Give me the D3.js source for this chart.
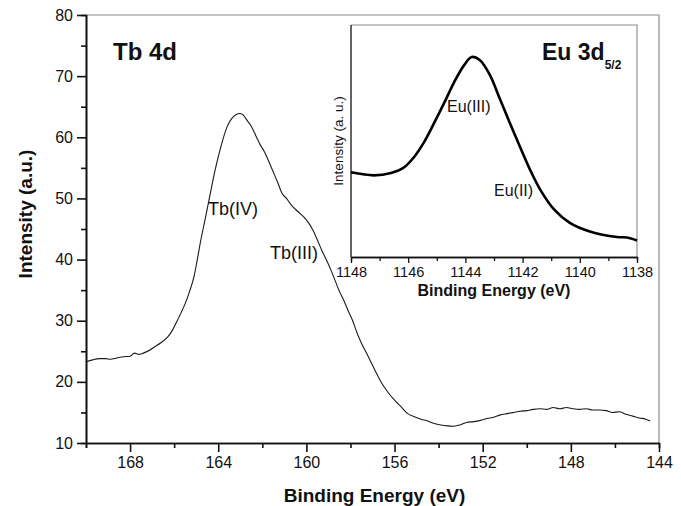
<!DOCTYPE html>
<html>
<head>
<meta charset="utf-8">
<script src="https://cdn.jsdelivr.net/npm/d3@7"></script>
<style>
  html, body { margin: 0; padding: 0; background: #fff; }
  svg { display: block; }
  text { font-family: "Liberation Sans", Arial, Helvetica, sans-serif; fill: #111; }
</style>
</head>
<body>
<svg id="chart" width="681" height="506"></svg>
<script>
// Tb 4d spectrum (binding energy in eV, intensity in a.u.)
const tbEnergy = [
  170.0, 169.7, 169.4, 169.1, 168.9, 168.6, 168.3, 168.0, 167.8, 167.6,
  167.4, 167.1, 166.9, 166.6, 166.3, 166.1, 165.9, 165.7, 165.5, 165.3,
  165.1, 164.95, 164.8, 164.6, 164.45, 164.3, 164.15, 164.0, 163.8, 163.6,
  163.4, 163.2, 163.0, 162.85, 162.7, 162.5, 162.3, 162.1, 161.9, 161.7,
  161.5, 161.3, 161.1, 160.9, 160.7, 160.4, 160.1, 159.9, 159.7, 159.5,
  159.3, 159.1, 158.9, 158.7, 158.5, 158.3, 158.1, 157.9, 157.7, 157.5,
  157.2, 156.9, 156.6, 156.3, 156.0, 155.7, 155.4, 155.1, 154.8, 154.5,
  154.2, 153.9, 153.6, 153.3, 153.0, 152.7, 152.4, 152.1, 151.8, 151.5,
  151.2, 150.9, 150.6, 150.3, 150.0, 149.7, 149.4, 149.1, 148.8, 148.5,
  148.2, 147.9, 147.6, 147.3, 147.0, 146.7, 146.4, 146.1, 145.8, 145.5,
  145.2, 144.9, 144.6, 144.4
];
const tbIntensity = [
  23.3, 23.6, 23.8, 23.8, 23.7, 23.9, 24.1, 24.2, 24.7, 24.5,
  24.7, 25.2, 25.7, 26.4, 27.3, 28.3, 29.7, 31.2, 32.8, 34.8,
  37.2, 40.0, 43.0, 46.5, 49.2, 51.9, 54.5, 56.8, 59.5, 61.7,
  63.0, 63.7, 63.9, 63.6, 62.8, 61.8, 60.3, 58.8, 57.6, 56.0,
  54.3, 52.6, 50.8, 50.0, 49.0, 47.9, 46.9, 46.0, 44.8, 43.2,
  41.5, 40.0, 38.4, 36.6, 34.8, 33.3, 31.6, 30.0, 28.0, 26.3,
  24.2, 22.0, 19.9, 18.3, 17.0, 15.9, 14.8, 14.3, 13.9, 13.6,
  13.2, 12.95, 12.8, 12.75, 13.0, 13.4, 13.5, 13.7, 14.0, 14.2,
  14.6, 14.8, 15.0, 15.2, 15.3, 15.5, 15.6, 15.5, 15.8, 15.6,
  15.8, 15.6, 15.5, 15.6, 15.4, 15.4, 15.3, 15.0, 15.1, 14.7,
  14.4, 14.1, 13.9, 13.6
];

// Eu 3d5/2 spectrum (inset, relative intensity)
const euEnergy = [
  1148.0, 1147.2, 1146.6, 1146.15, 1145.8, 1145.45, 1145.1, 1144.75, 1144.4, 1144.05,
  1143.78, 1143.5, 1143.15, 1142.8, 1142.45, 1142.1, 1141.75, 1141.4, 1140.9, 1140.35,
  1139.65, 1138.7, 1138.35, 1138.0
];
const euIntensity = [
  36.5, 35.2, 36.2, 38.6, 43.0, 49.4, 57.6, 66.2, 75.2, 82.6,
  86.2, 84.9, 78.6, 68.3, 57.9, 47.7, 37.9, 29.4, 20.5, 14.7,
  11.0, 8.6, 8.4, 7.1
];

// Axis ticks
const mainXMajor = [168, 164, 160, 156, 152, 148, 144];
const mainXMinor = [170, 166, 162, 158, 154, 150, 146];
const mainYMajor = [10, 20, 30, 40, 50, 60, 70, 80];
const mainYMinor = [15, 25, 35, 45, 55, 65, 75];
const insetXMajor = [1148, 1146, 1144, 1142, 1140, 1138];
const insetXMinor = [1147, 1145, 1143, 1141, 1139];

const svg = d3.select("#chart");
const tickFont = "'Liberation Sans', Arial, sans-serif";

// ---- main panel ----
const M = { left: 86, right: 659, top: 15, bottom: 443 };
const x = d3.scaleLinear().domain([170, 144]).range([M.left, M.right]);
const y = d3.scaleLinear().domain([10, 80]).range([M.bottom, M.top]);

// frame (top/right)
svg.append("path")
  .attr("d", `M${M.left},${M.top}H${M.right}V${M.bottom}`)
  .attr("fill", "none").attr("stroke", "#8a8a8a").attr("stroke-width", 1.2);

function styleAxis(g, width) {
  g.select(".domain").attr("stroke", "#111").attr("stroke-width", width);
  g.selectAll(".tick line").attr("stroke", "#111").attr("stroke-width", width);
}

// x axis
const gxMinor = svg.append("g").attr("transform", `translate(0,${M.bottom})`)
  .call(d3.axisBottom(x).tickValues(mainXMinor).tickSize(5).tickFormat(""));
styleAxis(gxMinor, 1.6);
const gx = svg.append("g").attr("transform", `translate(0,${M.bottom})`)
  .call(d3.axisBottom(x).tickValues(mainXMajor).tickSize(9).tickSizeOuter(0).tickPadding(5).tickFormat(d3.format("d")));
styleAxis(gx, 1.6);
gx.selectAll(".tick text").attr("font-size", 16).attr("fill", "#222").attr("font-family", tickFont);

// y axis
const gyMinor = svg.append("g").attr("transform", `translate(${M.left},0)`)
  .call(d3.axisLeft(y).tickValues(mainYMinor).tickSize(5).tickFormat(""));
styleAxis(gyMinor, 1.6);
const gy = svg.append("g").attr("transform", `translate(${M.left},0)`)
  .call(d3.axisLeft(y).tickValues(mainYMajor).tickSize(9).tickSizeOuter(0).tickPadding(4).tickFormat(d3.format("d")));
styleAxis(gy, 1.6);
gy.selectAll(".tick text").attr("font-size", 16).attr("fill", "#222").attr("font-family", tickFont);

// axis titles
svg.append("text").attr("x", (M.left + M.right) / 2 + 2).attr("y", 502)
  .attr("text-anchor", "middle").attr("font-size", 19).attr("font-weight", "bold")
  .text("Binding Energy (eV)");
svg.append("text").attr("transform", "translate(32,214) rotate(-90)")
  .attr("text-anchor", "middle").attr("font-size", 19).attr("font-weight", "bold")
  .text("Intensity (a.u.)");

// Tb curve
const tbData = tbEnergy.map((e, i) => [e, tbIntensity[i]]);
const tbLine = d3.line().x(d => x(d[0])).y(d => y(d[1])).curve(d3.curveMonotoneX);
svg.append("path").datum(tbData)
  .attr("d", tbLine)
  .attr("fill", "none").attr("stroke", "#1a1a1a").attr("stroke-width", 1.1)
  .attr("stroke-linejoin", "round");

// Tb labels
svg.append("text").attr("x", 113).attr("y", 60).attr("font-size", 24).attr("font-weight", "bold").text("Tb 4d");
svg.append("text").attr("x", 208).attr("y", 215).attr("font-size", 18).text("Tb(IV)");
svg.append("text").attr("x", 270).attr("y", 259).attr("font-size", 18).text("Tb(III)");

// ---- inset panel ----
const I = { left: 351, right: 637, top: 25, bottom: 257 };
const xi = d3.scaleLinear().domain([1148, 1138]).range([I.left, I.right]);
const yi = d3.scaleLinear().domain([0, 100]).range([I.bottom, I.top]);

svg.append("path")
  .attr("d", `M${I.left},${I.top}H${I.right}V${I.bottom}`)
  .attr("fill", "none").attr("stroke", "#8a8a8a").attr("stroke-width", 1.1);

const gxiMinor = svg.append("g").attr("transform", `translate(0,${I.bottom})`)
  .call(d3.axisBottom(xi).tickValues(insetXMinor).tickSize(4).tickFormat(""));
styleAxis(gxiMinor, 1.3);
const gxi = svg.append("g").attr("transform", `translate(0,${I.bottom})`)
  .call(d3.axisBottom(xi).tickValues(insetXMajor).tickSize(6).tickSizeOuter(0).tickPadding(4).tickFormat(d3.format("d")));
styleAxis(gxi, 1.3);
gxi.selectAll(".tick text").attr("font-size", 14.5).attr("fill", "#222").attr("font-family", tickFont);

svg.append("line").attr("x1", I.left).attr("x2", I.left).attr("y1", I.top).attr("y2", I.bottom)
  .attr("stroke", "#111").attr("stroke-width", 1.3);

svg.append("text").attr("x", (I.left + I.right) / 2).attr("y", 296)
  .attr("text-anchor", "middle").attr("font-size", 16).attr("font-weight", "bold")
  .text("Binding Energy (eV)");
svg.append("text").attr("transform", `translate(343,${(I.top + I.bottom) / 2}) rotate(-90)`)
  .attr("text-anchor", "middle").attr("font-size", 13.5)
  .text("Intensity (a. u.)");

const euData = euEnergy.map((e, i) => [e, euIntensity[i]]);
svg.append("path").datum(euData)
  .attr("d", d3.line().x(d => xi(d[0])).y(d => yi(d[1])).curve(d3.curveCatmullRom.alpha(0.5)))
  .attr("fill", "none").attr("stroke", "#000").attr("stroke-width", 2.6)
  .attr("stroke-linejoin", "round");

// inset labels
const euTitle = svg.append("text").attr("x", 542).attr("y", 60).attr("font-size", 23).attr("font-weight", "bold");
euTitle.append("tspan").text("Eu 3d");
euTitle.append("tspan").attr("font-size", 12).attr("dy", 9).text("5/2");
svg.append("text").attr("x", 447).attr("y", 112).attr("font-size", 16).text("Eu(III)");
svg.append("text").attr("x", 494).attr("y", 196).attr("font-size", 16).text("Eu(II)");
</script>
</body>
</html>
